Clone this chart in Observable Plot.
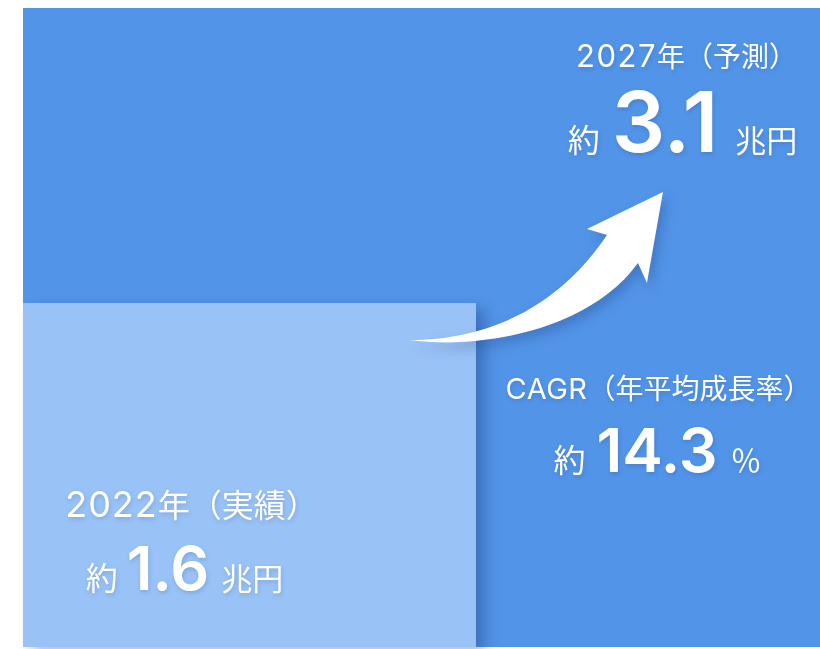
<!DOCTYPE html>
<html><head><meta charset="utf-8">
<script src="https://cdn.jsdelivr.net/npm/d3@7"></script>
<script src="https://cdn.jsdelivr.net/npm/@observablehq/plot@0.6"></script>
<style>
html,body{margin:0;padding:0;background:#fff;}
svg text{font-family:"Noto Sans CJK JP","Noto Sans",sans-serif;}
</style></head><body><div id="chart"></div>
<script>
// ---- data ----
const years = ["2022", "2027"];
const kinds = ["実績", "予測"];
const marketSize = [1.6, 3.1];      // 兆円
const sizeUnit = "兆円";
const prefix = "約";
const cagrTitle = "CAGR（年平均成長率）";
const cagrValue = 14.3;
const cagrUnit = "％";

const rows = years.map((y, i) => ({year: y, kind: kinds[i], value: marketSize[i]}));
const r2022 = rows.filter(d => d.year === "2022");
const r2027 = rows.filter(d => d.year === "2027");

// scale baselines (the bars grow from the lower-left corner)
const X0 = -0.375, Y0 = -0.149;
const LIGHT = "#99c3f7", DARK = "#5294e8";
const LATIN = "Inter, Lato, sans-serif";
const CJK = "'Noto Sans CJK JP', sans-serif";

function arrowMark(index, scales) {
  const cx = scales.x(marketSize[0]), cy = scales.y(marketSize[0]);
  const p = (dx, dy) => `${cx + dx},${cy + dy}`;
  const path = document.createElementNS("http://www.w3.org/2000/svg", "path");
  path.setAttribute("d",
    `M${p(-66,37)} C${p(-6,37)} ${p(74,17)} ${p(131,-68)} L${p(111,-74)} L${p(187,-111)} L${p(171,-20)} L${p(162,-40)} C${p(114,27)} ${p(4,47)} ${p(-66,37)} Z`);
  path.setAttribute("fill", "#fff");
  path.setAttribute("style", "filter:drop-shadow(4px 6px 6px rgba(20,50,110,0.28))");
  return path;
}

const txt = {fill: "#fff", textAnchor: "middle", lineAnchor: "bottom"};

const chart = Plot.plot({
  width: 820, height: 649, margin: 0,
  x: {domain: [X0, marketSize[1]], range: [23, 820], axis: null},
  y: {domain: [Y0, marketSize[1]], range: [647, 8], axis: null},
  color: {domain: years, range: [LIGHT, DARK]},
  marks: [
    Plot.rect(r2027, {x1: () => X0, x2: "value", y1: () => Y0, y2: "value", fill: "year", ariaDescription: "bar-2027"}),
    Plot.rect(r2022, {x1: () => X0, x2: "value", y1: () => Y0, y2: "value", fill: "year", ariaDescription: "bar-2022"}),
    arrowMark,
    Plot.text(r2027, {...txt, x: "value", y: "value", dx: -134, dy: 58, text: d => `${d.year}年（${d.kind}）`, ariaDescription: "label-m"}),
    Plot.text(r2027, {...txt, x: "value", y: "value", dx: -138, dy: 143, text: d => `${prefix} ${d.value} ${sizeUnit}`, ariaDescription: "value-big"}),
    Plot.text(r2022, {...txt, x: "value", y: "value", dx: -285, dy: 213, text: d => `${d.year}年（${d.kind}）`, ariaDescription: "label-l"}),
    Plot.text(r2022, {...txt, x: "value", y: "value", dx: -292, dy: 286, text: d => `${prefix} ${d.value} ${sizeUnit}`, ariaDescription: "value-small"}),
    Plot.text([cagrTitle], {...txt, frameAnchor: "top-left", dx: 658, dy: 398, text: d => d, ariaDescription: "label-c"}),
    Plot.text([cagrValue], {...txt, frameAnchor: "top-left", dx: 657, dy: 471, text: d => `${prefix} ${d} ${cagrUnit}`, ariaDescription: "value-cagr"})
  ]
});

const svg = d3.select(chart);
svg.select('g[aria-description="bar-2022"]').style("filter", "drop-shadow(9px 6px 7px rgba(20,50,110,0.35))");
svg.selectAll('g[aria-description^="label"], g[aria-description^="value"]').style("filter", "drop-shadow(1px 2px 2px rgba(20,50,110,0.2))");

// labels: latin runs and CJK runs in their own fonts
const labelSizes = {
  "label-m": {latin: 31, cjk: 28, ls: 1.5},
  "label-l": {latin: 36, cjk: 32, ls: 1},
  "label-c": {latin: 29, cjk: 28, ls: 0.5}
};
for (const [key, s] of Object.entries(labelSizes)) {
  svg.selectAll(`g[aria-description="${key}"] text`).each(function() {
    const t = d3.select(this);
    const runs = t.text().match(/[\x20-\x7e]+|[^\x20-\x7e]+/g);
    t.text(null);
    for (const r of runs) {
      const latin = /^[\x20-\x7e]+$/.test(r);
      t.append("tspan")
        .attr("font-family", latin ? LATIN : CJK)
        .attr("font-size", latin ? s.latin : s.cjk)
        .attr("letter-spacing", latin ? s.ls : 0)
        .text(r);
    }
  });
}

// value lines: prefix / number / unit
const valueSizes = {
  "value-big":   {pre: 32, num: 84, unit: 31, g1: 12, g2: 17},
  "value-small": {pre: 32, num: 61, unit: 31, g1: 9, g2: 12},
  "value-cagr":  {pre: 32, num: 61, unit: 31, g1: 11, g2: 13}
};
for (const [key, s] of Object.entries(valueSizes)) {
  svg.selectAll(`g[aria-description="${key}"] text`).each(function() {
    const t = d3.select(this);
    const parts = t.text().split(" ");
    t.text(null);
    t.append("tspan").attr("font-family", CJK).attr("font-size", s.pre).text(parts[0]);
    t.append("tspan").attr("font-family", LATIN).attr("font-size", s.num).attr("font-weight", 600).attr("dx", s.g1).text(parts[1]);
    t.append("tspan").attr("font-family", CJK).attr("font-size", s.unit).attr("dx", s.g2).text(parts[2]);
  });
}

document.getElementById("chart").appendChild(chart);
</script>
</body></html>
